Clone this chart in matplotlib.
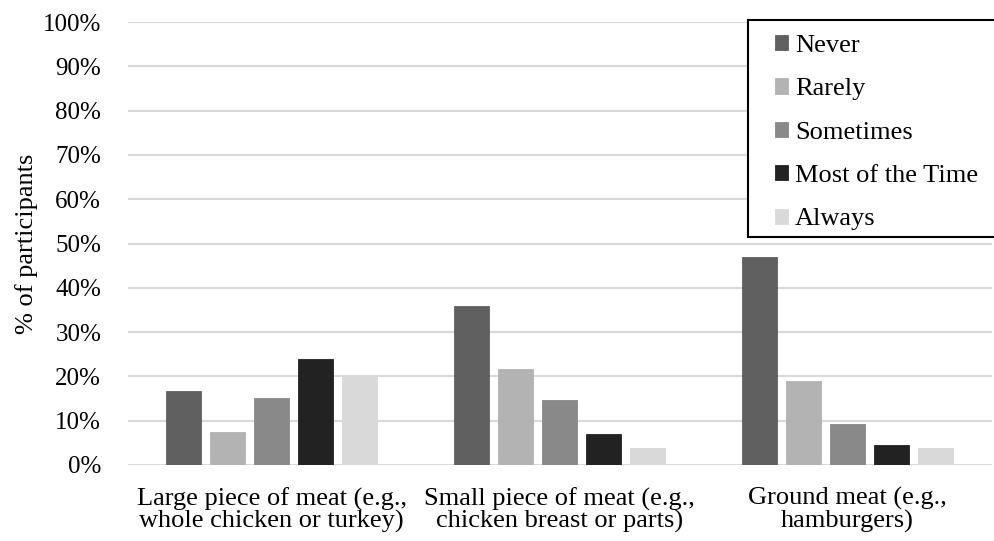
import matplotlib
matplotlib.use("Agg")
import matplotlib.pyplot as plt
import numpy as np
from matplotlib.patches import Rectangle
from matplotlib.ticker import PercentFormatter

categories = [
    "Large piece of meat (e.g.,\nwhole chicken or turkey)",
    "Small piece of meat (e.g.,\nchicken breast or parts)",
    "Ground meat (e.g.,\nhamburgers)",
]
series_names = ["Never", "Rarely", "Sometimes", "Most of the Time", "Always"]
never = [16.7, 35.8, 47.0]
rarely = [7.5, 21.7, 19.0]
sometimes = [15.1, 14.6, 9.3]
most_of_the_time = [23.9, 7.1, 4.4]
always = [19.9, 3.8, 3.8]
colors = ["#606060", "#b3b3b3", "#898989", "#222222", "#d9d9d9"]

plt.rcParams["font.family"] = ["Liberation Serif", "DejaVu Serif"]
FS = 19
W, H = 994, 541

fig = plt.figure(figsize=(W / 100, H / 100), dpi=100)
ax = fig.add_axes([0.1283, 0.1405, 0.8692, 0.8188])

x = np.arange(len(categories))
bar_w = 0.121
step = 0.153
values = [never, rarely, sometimes, most_of_the_time, always]
for i, (name, vals, c) in enumerate(zip(series_names, values, colors)):
    offs = (i - 2) * step
    ax.bar(x + offs, vals, width=bar_w, color=c, label=name, zorder=3,
           edgecolor=c, linewidth=0.6)

ax.set_xlim(-0.5, 2.5)
ax.set_ylim(0, 100)
ax.set_yticks(np.arange(0, 101, 10))
ax.yaxis.set_major_formatter(PercentFormatter(decimals=0))
ax.grid(axis="y", color="#d9d9d9", linewidth=1.5, zorder=0)
ax.set_axisbelow(True)
for s in ax.spines.values():
    s.set_visible(False)
ax.set_xticks(x)
ax.set_xticklabels(categories, fontsize=FS, linespacing=0.95)
ax.tick_params(axis="x", length=0, pad=16)
ax.tick_params(axis="y", length=0, pad=19, labelsize=18)
ax.set_ylabel("% of participants", fontsize=FS, labelpad=3.5)

# Legend box: white panel with black border, running off the right edge
frame = Rectangle((748 / W, 1 - 237 / H), 260 / W, 217 / H,
                  transform=fig.transFigure, facecolor="white",
                  edgecolor="black", linewidth=1.5, zorder=5, clip_on=False)
fig.add_artist(frame)

leg = fig.legend(loc="upper left", bbox_to_anchor=(775 / W, 1 - 35 / H),
                 borderaxespad=0, borderpad=0, fontsize=FS, frameon=False,
                 handlelength=0.5, handleheight=0.5, handletextpad=0.25,
                 labelspacing=0.81)
leg.set_zorder(6)

fig.savefig("out.png", dpi=100)
